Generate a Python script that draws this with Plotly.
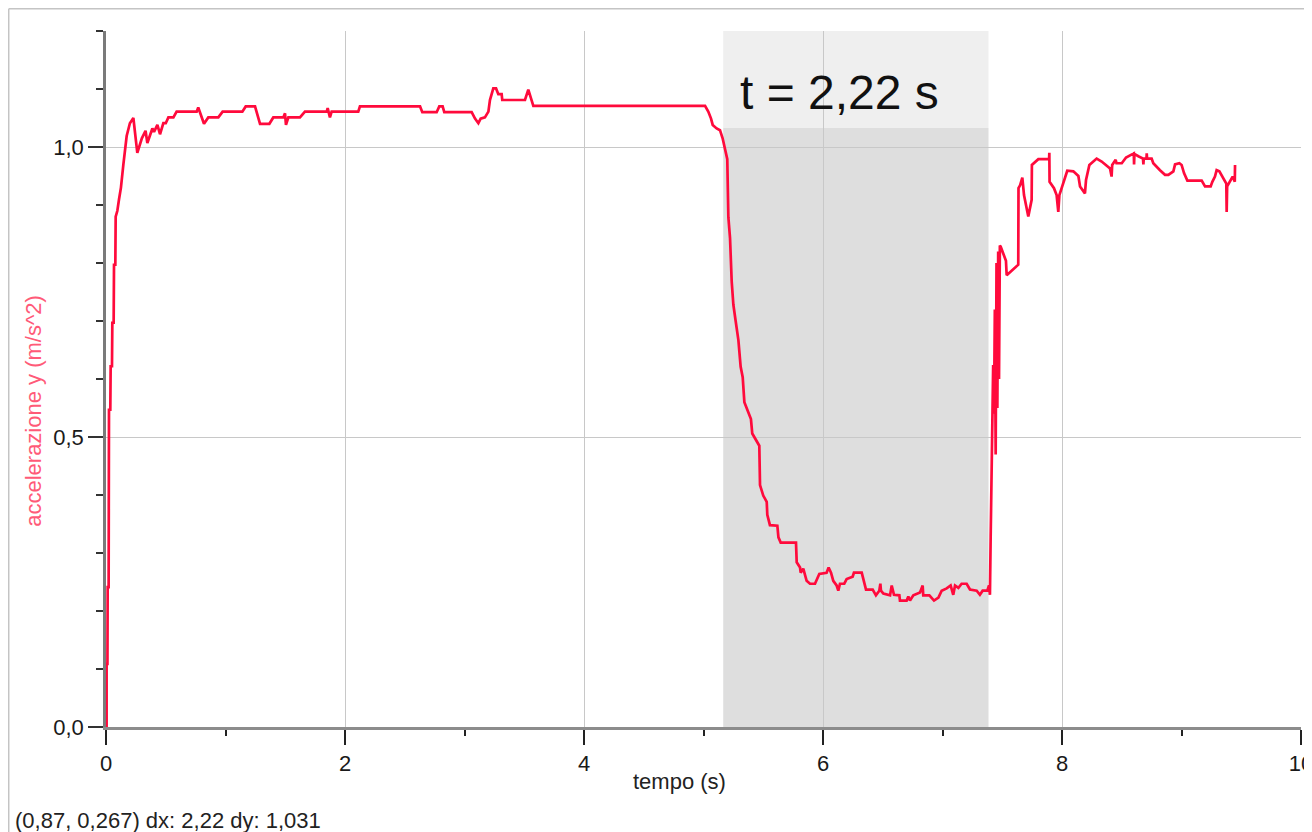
import plotly.graph_objects as go

# ---- data ----
tempo = [
    0.0, 0.005, 0.005, 0.012, 0.014, 0.022, 0.025, 0.036, 0.039, 0.050,
    0.053, 0.064, 0.067, 0.078, 0.081, 0.095, 0.109, 0.125, 0.145, 0.160,
    0.173, 0.200, 0.229, 0.262, 0.300, 0.331, 0.346, 0.388, 0.402, 0.430,
    0.452, 0.480, 0.500, 0.522, 0.564, 0.591, 0.759, 0.772, 0.787, 0.820,
    0.856, 0.940, 0.976, 1.141, 1.169, 1.247, 1.289, 1.367, 1.400, 1.484,
    1.498, 1.506, 1.526, 1.623, 1.665, 1.847, 1.855, 1.874, 1.888, 2.111,
    2.125, 2.628, 2.647, 2.767, 2.789, 2.817, 2.831, 3.060, 3.088, 3.116,
    3.135, 3.171, 3.200, 3.213, 3.241, 3.264, 3.283, 3.311, 3.316, 3.506,
    3.534, 3.576, 5.013, 5.040, 5.063, 5.077, 5.110, 5.138, 5.160, 5.180,
    5.199, 5.208, 5.222, 5.236, 5.250, 5.269, 5.292, 5.311, 5.328, 5.342,
    5.361, 5.397, 5.408, 5.444, 5.467, 5.473, 5.500, 5.529, 5.534, 5.556,
    5.618, 5.627, 5.646, 5.774, 5.780, 5.808, 5.813, 5.835, 5.863, 5.891,
    5.933, 5.969, 6.030, 6.047, 6.067, 6.086, 6.114, 6.128, 6.142, 6.178,
    6.198, 6.248, 6.259, 6.324, 6.343, 6.360, 6.416, 6.443, 6.471, 6.480,
    6.485, 6.505, 6.561, 6.575, 6.594, 6.639, 6.644, 6.700, 6.714, 6.728,
    6.756, 6.812, 6.834, 6.839, 6.890, 6.929, 6.966, 6.993, 7.035, 7.068,
    7.090, 7.105, 7.133, 7.160, 7.202, 7.230, 7.286, 7.313, 7.336, 7.375,
    7.389, 7.397, 7.403, 7.410, 7.417, 7.424, 7.431, 7.438, 7.445, 7.452,
    7.459, 7.466, 7.473, 7.480, 7.487, 7.509, 7.531, 7.537, 7.634, 7.636,
    7.649, 7.668, 7.682, 7.718, 7.746, 7.748, 7.802, 7.892, 7.894, 7.896,
    7.933, 7.955, 7.969, 7.978, 8.044, 8.095, 8.137, 8.151, 8.192, 8.201,
    8.229, 8.290, 8.332, 8.402, 8.415, 8.420, 8.449, 8.456, 8.500, 8.536,
    8.583, 8.601, 8.603, 8.606, 8.639, 8.678, 8.681, 8.684, 8.707, 8.709,
    8.712, 8.750, 8.764, 8.820, 8.862, 8.890, 8.932, 8.946, 8.982, 9.001,
    9.021, 9.049, 9.169, 9.197, 9.244, 9.258, 9.280, 9.294, 9.317, 9.375,
    9.378, 9.382, 9.428, 9.446, 9.448,
]
accel_y = [
    0.000, 0.000, 0.109, 0.109, 0.241, 0.241, 0.547, 0.547, 0.622, 0.622,
    0.697, 0.697, 0.797, 0.797, 0.880, 0.890, 0.910, 0.930, 0.969, 0.998,
    1.019, 1.041, 1.050, 0.990, 1.015, 1.028, 1.007, 1.032, 1.026, 1.038,
    1.022, 1.041, 1.041, 1.051, 1.051, 1.061, 1.061, 1.068, 1.058, 1.040,
    1.051, 1.051, 1.061, 1.061, 1.070, 1.070, 1.040, 1.040, 1.051, 1.051,
    1.058, 1.038, 1.051, 1.051, 1.061, 1.061, 1.067, 1.051, 1.061, 1.061,
    1.070, 1.070, 1.060, 1.060, 1.070, 1.070, 1.060, 1.060, 1.049, 1.041,
    1.049, 1.051, 1.061, 1.081, 1.101, 1.101, 1.091, 1.091, 1.081, 1.081,
    1.099, 1.071, 1.071, 1.061, 1.049, 1.038, 1.032, 1.029, 1.015, 0.997,
    0.979, 0.879, 0.843, 0.768, 0.728, 0.700, 0.667, 0.621, 0.603, 0.560,
    0.549, 0.531, 0.506, 0.492, 0.485, 0.417, 0.399, 0.388, 0.366, 0.348,
    0.347, 0.327, 0.318, 0.318, 0.284, 0.275, 0.266, 0.273, 0.252, 0.247,
    0.247, 0.264, 0.266, 0.275, 0.266, 0.252, 0.244, 0.235, 0.247, 0.247,
    0.255, 0.259, 0.266, 0.266, 0.248, 0.237, 0.237, 0.227, 0.235, 0.247,
    0.235, 0.230, 0.227, 0.244, 0.228, 0.227, 0.218, 0.218, 0.225, 0.218,
    0.227, 0.232, 0.244, 0.227, 0.227, 0.218, 0.223, 0.235, 0.239, 0.244,
    0.228, 0.244, 0.240, 0.247, 0.247, 0.237, 0.235, 0.228, 0.235, 0.235,
    0.244, 0.228, 0.327, 0.427, 0.528, 0.624, 0.540, 0.720, 0.470, 0.800,
    0.550, 0.820, 0.600, 0.830, 0.828, 0.817, 0.804, 0.779, 0.797, 0.929,
    0.934, 0.947, 0.917, 0.880, 0.909, 0.969, 0.979, 0.979, 0.990, 0.940,
    0.929, 0.917, 0.888, 0.917, 0.959, 0.958, 0.950, 0.932, 0.920, 0.943,
    0.969, 0.980, 0.975, 0.963, 0.949, 0.969, 0.978, 0.972, 0.972, 0.982,
    0.988, 0.989, 0.970, 0.988, 0.984, 0.980, 0.970, 0.980, 0.980, 0.989,
    0.980, 0.980, 0.972, 0.960, 0.952, 0.952, 0.958, 0.970, 0.972, 0.969,
    0.955, 0.942, 0.942, 0.932, 0.932, 0.940, 0.949, 0.960, 0.958, 0.937,
    0.888, 0.932, 0.949, 0.940, 0.969,
]

x_tickvals = [0, 2, 4, 6, 8, 10]
x_ticktext = ["0", "2", "4", "6", "8", "10"]
y_tickvals = [0.0, 0.5, 1.0]
y_ticktext = ["0,0", "0,5", "1,0"]

sel_start = 5.165
sel_dx = 2.22
sel_label = "t = 2,22 s"
status_text = "(0,87, 0,267) dx: 2,22 dy: 1,031"
x_title = "tempo (s)"
y_title = "accelerazione y (m/s^2)"

FONT = "Liberation Sans, Arial, sans-serif"
LINE_COLOR = "#ff0a3c"
FS = 22

fig = go.Figure()
fig.add_trace(go.Scatter(
    x=tempo, y=accel_y, mode="lines",
    line=dict(color=LINE_COLOR, width=2.7),
    hoverinfo="skip", showlegend=False,
))

# selection band (dark part + lighter label strip)
fig.add_shape(type="rect", xref="x", yref="paper",
              x0=sel_start, x1=sel_start + sel_dx, y0=0, y1=0.8606,
              fillcolor="#dedede", line=dict(width=0), layer="below")
fig.add_shape(type="rect", xref="x", yref="paper",
              x0=sel_start, x1=sel_start + sel_dx, y0=0.8606, y1=1.0,
              fillcolor="#efefef", line=dict(width=0), layer="below")

# outer panel border (left and top)
fig.add_shape(type="line", xref="paper", yref="paper",
              x0=-0.0814, x1=-0.0814, y0=1.0320, y1=-0.20,
              line=dict(color="#c4c4c4", width=1.5), layer="above")
fig.add_shape(type="line", xref="paper", yref="paper",
              x0=-0.0814, x1=1.02, y0=1.0320, y1=1.0320,
              line=dict(color="#c4c4c4", width=1.5), layer="above")

fig.add_annotation(text=sel_label, xref="x", yref="paper",
                   x=sel_start + 0.12, y=0.911, xanchor="left", yanchor="middle",
                   showarrow=False, font=dict(family=FONT, size=48, color="#111111"))
fig.add_annotation(text=x_title, xref="paper", yref="paper",
                   x=0.4803, y=-0.0790, xanchor="center", yanchor="middle",
                   showarrow=False, font=dict(family=FONT, size=FS, color="#222222"))
fig.add_annotation(text=y_title, xref="paper", yref="paper",
                   x=-0.0607, y=0.455, xanchor="center", yanchor="middle",
                   textangle=-90, showarrow=False,
                   font=dict(family=FONT, size=FS, color="#ff5a78"))
fig.add_annotation(text=status_text, xref="paper", yref="paper",
                   x=-0.0782, y=-0.1350, xanchor="left", yanchor="middle",
                   showarrow=False, font=dict(family=FONT, size=FS, color="#222222"))

# the page body has an 8px margin: figure occupies 1304x824 starting at (8, 8)
fig.update_layout(
    width=1304, height=824,
    margin=dict(l=98, r=11, t=23, b=105),
    paper_bgcolor="white", plot_bgcolor="white",
    font=dict(family=FONT, size=FS, color="#222222"),
    showlegend=False,
    xaxis=dict(
        range=[0, 10], tickmode="array", tickvals=x_tickvals, ticktext=x_ticktext,
        showgrid=True, gridcolor="#c8c8c8", gridwidth=1, zeroline=False,
        showline=True, linecolor="#8c8c8c", linewidth=3,
        ticks="outside", ticklen=15, tickwidth=1.5, tickcolor="#222222",
        tickfont=dict(family=FONT, size=FS, color="#1a1a1a"),
        ticklabeloverflow="allow",
        minor=dict(tickmode="linear", tick0=0, dtick=1, ticks="outside",
                   ticklen=6, tickwidth=1.5, tickcolor="#222222", showgrid=False),
        automargin=False, fixedrange=True,
    ),
    yaxis=dict(
        range=[0, 1.2], tickmode="array", tickvals=y_tickvals, ticktext=y_ticktext,
        showgrid=True, gridcolor="#c8c8c8", gridwidth=1, zeroline=False,
        showline=True, linecolor="#7a7a7a", linewidth=2.5,
        ticks="outside", ticklen=15, tickwidth=1.5, tickcolor="#333333",
        tickfont=dict(family=FONT, size=FS, color="#1a1a1a"),
        minor=dict(tickmode="linear", tick0=0, dtick=0.1, ticks="outside",
                   ticklen=7, tickwidth=1.5, tickcolor="#333333", showgrid=False),
        automargin=False, fixedrange=True,
    ),
)

fig.write_html("out.html")
